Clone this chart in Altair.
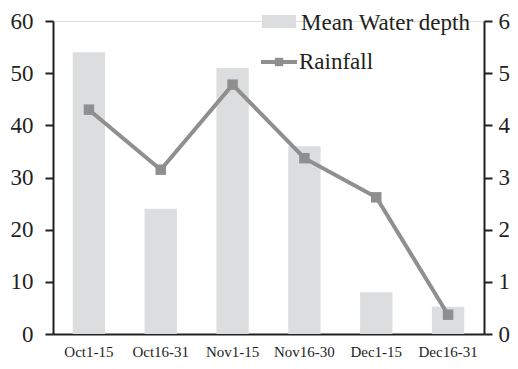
import altair as alt
import pandas as pd

periods = ["Oct1-15", "Oct16-31", "Nov1-15", "Nov16-30", "Dec1-15", "Dec16-31"]
water_depth = [54, 24, 51, 36, 8, 5.2]
rainfall = [4.3, 3.15, 4.78, 3.37, 2.62, 0.37]
series_names = ["Mean Water depth", "Rainfall"]

FONT = "Liberation Serif"
BAR_COLOR = "#dcdddf"
LINE_COLOR = "#8f8f8f"
AXIS_COLOR = "#231f20"

df = pd.DataFrame({"period": periods, "depth": water_depth, "rain": rainfall})

x_enc = alt.X(
    "period:N",
    sort=periods,
    scale=alt.Scale(paddingInner=0.55, paddingOuter=0.275),
    axis=alt.Axis(
        title=None, labelAngle=0, ticks=False, labelFontSize=15, labelFont=FONT,
        labelColor=AXIS_COLOR, labelPadding=10, domainColor=AXIS_COLOR, domainWidth=2,
    ),
)

bars = alt.Chart(df).mark_bar(color=BAR_COLOR).encode(
    x=x_enc,
    y=alt.Y(
        "depth:Q",
        scale=alt.Scale(domain=[0, 60], nice=False),
        axis=alt.Axis(
            title=None, values=[0, 10, 20, 30, 40, 50, 60], grid=False,
            labelFontSize=23, labelFont=FONT, labelColor=AXIS_COLOR, labelPadding=12,
            domainColor=AXIS_COLOR, domainWidth=2, tickColor=AXIS_COLOR, tickWidth=2,
            tickSize=8, orient="left",
        ),
    ),
)

line = alt.Chart(df).mark_line(
    color=LINE_COLOR, strokeWidth=4,
    point=alt.OverlayMarkDef(shape="square", size=110, filled=True, color=LINE_COLOR, opacity=1),
).encode(
    x=alt.X("period:N", sort=periods),
    y=alt.Y(
        "rain:Q",
        scale=alt.Scale(domain=[0, 6], nice=False),
        axis=alt.Axis(
            title=None, values=[0, 1, 2, 3, 4, 5, 6], grid=False, orient="right",
            labelFontSize=23, labelFont=FONT, labelColor=AXIS_COLOR, labelPadding=6,
            domainColor=AXIS_COLOR, domainWidth=2, tickColor=AXIS_COLOR, tickWidth=2,
            tickSize=8,
        ),
    ),
)

legend_df = pd.DataFrame({"name": series_names})

leg_rect = alt.Chart(legend_df.iloc[[0]]).mark_rect(color=BAR_COLOR).encode(
    x=alt.value(209), x2=alt.value(243), y=alt.value(-6), y2=alt.value(7)
)
leg_line = alt.Chart(legend_df.iloc[[1]]).mark_rule(color=LINE_COLOR, strokeWidth=4).encode(
    x=alt.value(208), x2=alt.value(244), y=alt.value(41)
)
leg_pt = alt.Chart(legend_df.iloc[[1]]).mark_point(
    shape="square", size=70, filled=True, color=LINE_COLOR, opacity=1
).encode(x=alt.value(226), y=alt.value(41))
leg_text1 = alt.Chart(legend_df.iloc[[0]]).mark_text(
    align="left", baseline="middle", font=FONT, fontSize=23, color=AXIS_COLOR
).encode(x=alt.value(248), y=alt.value(2), text="name:N")
leg_text2 = alt.Chart(legend_df.iloc[[1]]).mark_text(
    align="left", baseline="middle", font=FONT, fontSize=23, color=AXIS_COLOR
).encode(x=alt.value(246), y=alt.value(41), text="name:N")

chart = (
    alt.layer(bars, line, leg_rect, leg_line, leg_pt, leg_text1, leg_text2)
    .resolve_scale(y="independent")
    .properties(
        width=431, height=313, autosize="none",
        padding={"left": 45, "top": 13, "right": 26, "bottom": 27},
    )
    .configure_view(stroke=None)
    .configure(background="white")
)

chart.save("out.html", embed_options={"renderer": "svg", "actions": False})
